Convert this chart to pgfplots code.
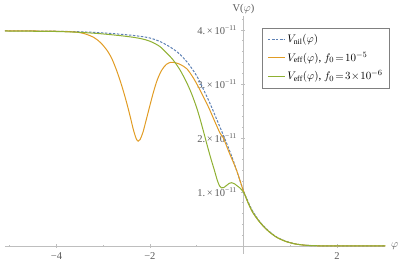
\documentclass[border=0pt]{standalone}
\usepackage{fontspec}
\setmainfont{Liberation Serif}
\usepackage{pgfplots}
\pgfplotsset{compat=1.18}
\definecolor{mblue}{HTML}{5E81B5}
\definecolor{morange}{HTML}{E19C24}
\definecolor{mgreen}{HTML}{8FB032}
\definecolor{axgray}{HTML}{BEBEBE}
\definecolor{tkgray}{HTML}{5A5A5A}
\begin{document}
\begin{tikzpicture}
\begin{axis}[
  at={(0,0)}, anchor=south west,
  scale only axis, width=380.5pt, height=237.6pt,
  xmin=-5.1, xmax=3.04, ymin=-0.15, ymax=4.25,
  axis lines=middle,
  axis line style={axgray, line width=0.5pt, -},
  every tick/.style={axgray, line width=0.5pt},
  major tick length=4pt, minor tick length=2.2pt,
  xtick={-4,-2,2}, minor xtick={-5,-3,-1,1,3},
  ytick={1,2,3,4}, minor ytick={0.2,0.4,0.6,0.8,1.2,1.4,1.6,1.8,2.2,2.4,2.6,2.8,3.2,3.4,3.6,3.8,4.2},
  yticklabels={{1.\,×\,10\textsuperscript{−11}},{2.\,×\,10\textsuperscript{−11}},{3.\,×\,10\textsuperscript{−11}},{4.\,×\,10\textsuperscript{−11}}},
  xticklabels={−4,−2,2},
  tick label style={font=\fontsize{10.5}{12}\selectfont, text=tkgray},
  yticklabel style={xshift=-1pt},
  xticklabel style={yshift=-1pt},
  xlabel={$\varphi$}, ylabel={V($\varphi$)},
  xlabel style={at={(axis cs:3.04,0)}, anchor=west, font=\fontsize{10.5}{12}\selectfont, text=tkgray, xshift=2pt},
  ylabel style={at={(axis cs:0,4.25)}, anchor=south, font=\fontsize{10.5}{12}\selectfont, text=tkgray, yshift=-1pt},
  clip=false,
  legend style={at={(axis cs:0.40,4.04)}, anchor=north west, draw=gray, line width=0.5pt, fill=white,
    font=\fontsize{11}{13}\selectfont, row sep=4pt, inner xsep=5pt, inner ysep=4.5pt,
    /tikz/every even column/.append style={column sep=4pt}},
  legend cell align=left,
  legend image post style={line width=1pt},
]
\addplot[mblue, line width=1pt, dash pattern=on 2.5pt off 1.5pt, smooth, tension=0.5] coordinates {
(-5.1,3.98) (-4.5,3.98) (-4.0,3.975) (-3.5,3.965) (-3.0,3.945) (-2.5,3.91) (-2.2,3.88) (-2.0,3.85)
(-1.8,3.79) (-1.6,3.70) (-1.4,3.58) (-1.2,3.40) (-1.0,3.15) (-0.85,2.89) (-0.7,2.61) (-0.55,2.30)
(-0.4,1.99) (-0.25,1.66) (-0.1,1.28) (0.0,1.02) (0.1,0.82) (0.2,0.64) (0.35,0.45) (0.5,0.31)
(0.7,0.17) (0.9,0.09) (1.1,0.04) (1.3,0.015) (1.5,0.005) (1.8,0.001) (2.2,0) (3.04,0)};
\addlegendentry{$V_{\mathrm{nil}}(\varphi)$}
\addplot[morange, line width=1pt, smooth, tension=0.5] coordinates {
(-5.1,3.98) (-4.5,3.98) (-4.0,3.975) (-3.6,3.96) (-3.4,3.93) (-3.2,3.86) (-3.05,3.76) (-2.9,3.60)
(-2.8,3.44) (-2.7,3.22) (-2.6,2.96) (-2.5,2.66) (-2.42,2.39) (-2.35,2.14) (-2.29,1.98) (-2.25,1.94)
(-2.21,1.97) (-2.15,2.10) (-2.08,2.33) (-2.0,2.60) (-1.92,2.86) (-1.84,3.08) (-1.75,3.25) (-1.65,3.36)
(-1.55,3.40) (-1.45,3.39) (-1.35,3.36) (-1.21,3.28) (-1.07,3.11) (-0.93,2.89) (-0.82,2.70) (-0.72,2.52)
(-0.6,2.28) (-0.5,2.09) (-0.43,2.00) (-0.3,1.72) (-0.15,1.41) (0.0,1.02) (0.1,0.80) (0.2,0.62)
(0.35,0.44) (0.5,0.30) (0.7,0.165) (0.9,0.085) (1.1,0.038) (1.3,0.014) (1.5,0.004) (1.8,0.001) (2.2,0) (3.04,0)};
\addlegendentry{$V_{\mathrm{eff}}(\varphi)$, $f_0\!=\!10^{-5}$}
\addplot[mgreen, line width=1pt, smooth, tension=0.5] coordinates {
(-5.1,3.98) (-4.5,3.975) (-4.0,3.97) (-3.5,3.955) (-3.0,3.925) (-2.5,3.88) (-2.2,3.84) (-2.0,3.79)
(-1.8,3.70) (-1.65,3.58) (-1.5,3.44) (-1.35,3.25) (-1.2,3.00) (-1.1,2.80) (-1.0,2.56) (-0.93,2.36)
(-0.86,2.14) (-0.78,1.88) (-0.7,1.63) (-0.62,1.40) (-0.56,1.22) (-0.51,1.11) (-0.47,1.075) (-0.42,1.08)
(-0.36,1.12) (-0.3,1.16) (-0.25,1.17) (-0.19,1.15) (-0.13,1.11) (-0.07,1.07) (-0.02,1.02) (0.03,0.95)
(0.1,0.80) (0.2,0.62) (0.35,0.44) (0.5,0.30) (0.7,0.165) (0.9,0.085) (1.1,0.038) (1.3,0.014)
(1.5,0.004) (1.8,0.001) (2.2,0) (3.04,0)};
\addlegendentry{$V_{\mathrm{eff}}(\varphi)$, $f_0\!=\!3\!\times\!10^{-6}$}
\end{axis}
\pgfresetboundingbox
\path (-5pt,-10pt) rectangle (400pt,254pt);
\end{tikzpicture}
\end{document}
